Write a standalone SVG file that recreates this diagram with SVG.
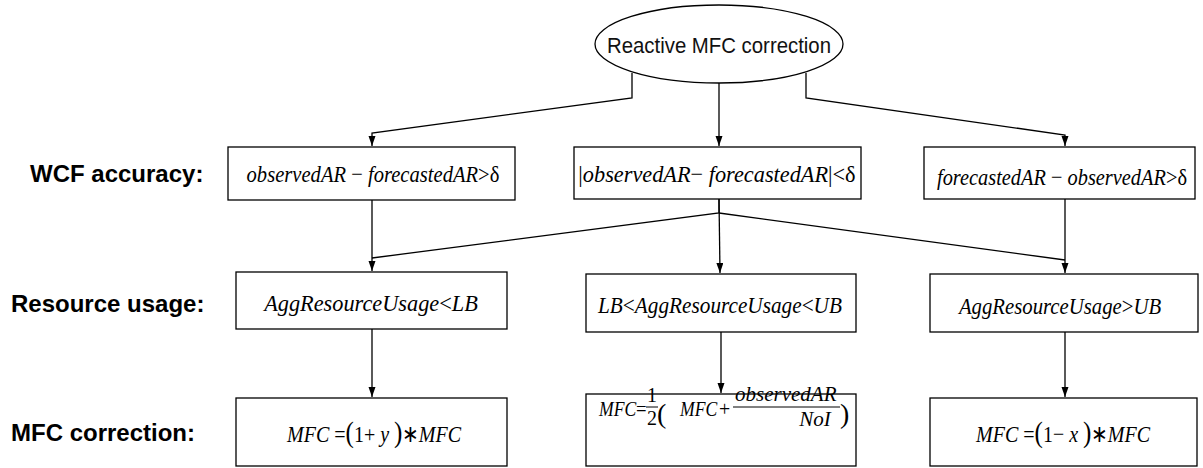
<svg xmlns="http://www.w3.org/2000/svg" width="1203" height="468" viewBox="0 0 1203 468">
<defs>
<marker id="arr" markerUnits="userSpaceOnUse" markerWidth="11" markerHeight="8" refX="10" refY="3.5" orient="auto">
<path d="M0,0 L10,3.5 L0,7 z" fill="#000"/>
</marker>
<style>
.box{fill:#fff;stroke:#000;stroke-width:1.3}
.conn{fill:none;stroke:#000;stroke-width:1.3}
.m{font-family:"Liberation Serif",serif;font-style:italic;font-size:24px;fill:#000;text-anchor:middle}
.s{font-family:"Liberation Serif",serif;font-style:italic;font-size:22px;fill:#000}
.u{font-style:normal}
.p{font-style:normal;font-size:30px}
.lab{font-family:"Liberation Sans",sans-serif;font-weight:bold;font-size:24px;fill:#000}
.el{font-family:"Liberation Sans",sans-serif;font-size:22px;fill:#111}
</style>
</defs>
<rect width="1203" height="468" fill="#fff"/>

<g id="labels">
<text class="lab" x="30" y="182">WCF accuracy:</text>
<text class="lab" x="11" y="312">Resource usage:</text>
<text class="lab" x="11" y="441">MFC correction:</text>
</g>

<g id="connectors">
<path class="conn" d="M632,73 L632,98 L372,133 L372,146" marker-end="url(#arr)"/>
<path class="conn" d="M719,83 L719,146" marker-end="url(#arr)"/>
<path class="conn" d="M806,73 L806,98 L1065,135 L1065,146" marker-end="url(#arr)"/>
<path class="conn" d="M372,200 L372,271" marker-end="url(#arr)"/>
<path class="conn" d="M719,199 L719,213 L372,258"/>
<path class="conn" d="M719,199 L720,273" marker-end="url(#arr)"/>
<path class="conn" d="M719,213 L1065,260"/>
<path class="conn" d="M1065,199 L1065,273" marker-end="url(#arr)"/>
<path class="conn" d="M372,329 L372,397" marker-end="url(#arr)"/>
<path class="conn" d="M721,332 L721,393" marker-end="url(#arr)"/>
<path class="conn" d="M1065,332 L1065,397" marker-end="url(#arr)"/>
</g>

<g id="root">
<ellipse class="box" cx="719" cy="44" rx="124" ry="39"/>
<text class="el" x="719" y="53" text-anchor="middle" textLength="224" lengthAdjust="spacingAndGlyphs">Reactive MFC correction</text>
</g>

<g id="wcf-over">
<rect class="box" x="228" y="147" width="287" height="53"/>
<text class="m" transform="translate(373,182) scale(0.858,1)">observedAR<tspan class="u"> − </tspan>forecastedAR<tspan class="u">&gt;δ</tspan></text>
</g>
<g id="wcf-ok">
<rect class="box" x="574" y="147" width="287" height="52"/>
<text class="m" transform="translate(717,182) scale(0.93,1)"><tspan class="u">|</tspan>observedAR<tspan class="u">− </tspan>forecastedAR<tspan class="u">|&lt;δ</tspan></text>
</g>
<g id="wcf-under">
<rect class="box" x="924" y="147" width="271" height="52"/>
<text class="m" transform="translate(1062,185) scale(0.848,1)">forecastedAR<tspan class="u"> − </tspan>observedAR<tspan class="u">&gt;δ</tspan></text>
</g>

<g id="res-low">
<rect class="box" x="236" y="272" width="271" height="57"/>
<text class="m" transform="translate(371,311) scale(0.93,1)">AggResourceUsage<tspan class="u">&lt;</tspan>LB</text>
</g>
<g id="res-mid">
<rect class="box" x="586" y="274" width="270" height="58"/>
<text class="m" transform="translate(720,313) scale(0.886,1)">LB<tspan class="u">&lt;</tspan>AggResourceUsage<tspan class="u">&lt;</tspan>UB</text>
</g>
<g id="res-high">
<rect class="box" x="930" y="274" width="268" height="58"/>
<text class="m" transform="translate(1060,314) scale(0.865,1)">AggResourceUsage<tspan class="u">&gt;</tspan>UB</text>
</g>

<g id="mfc-up">
<rect class="box" x="236" y="398" width="271" height="68"/>
<text class="m" transform="translate(374,442) scale(0.835,1)">MFC<tspan class="u"> =</tspan><tspan class="p">(</tspan><tspan class="u">1+ </tspan>y<tspan class="u"> </tspan><tspan class="p">)</tspan><tspan class="u">∗</tspan>MFC</text>
</g>
<g id="mfc-avg">
<rect class="box" x="586" y="394" width="270" height="72"/>
<text class="s" transform="translate(599,416) scale(0.8,1)">MFC</text>
<text class="s u" transform="translate(636,416) scale(0.85,1)">=</text>
<text class="s u" x="652" y="402" text-anchor="middle" style="font-size:20px">1</text>
<line x1="646" y1="407" x2="658" y2="407" stroke="#000" stroke-width="1"/>
<text class="s u" x="652" y="425" text-anchor="middle" style="font-size:20px">2</text>
<text class="s p" x="657" y="423" style="font-size:28px">(</text>
<text class="s" transform="translate(680,416) scale(0.8,1)">MFC</text>
<text class="s u" transform="translate(719,416) scale(0.9,1)">+</text>
<text class="s" x="735" y="401" style="font-size:21px">observedAR</text>
<line x1="733" y1="407" x2="840" y2="407" stroke="#000" stroke-width="1"/>
<text class="s" x="815" y="426" text-anchor="middle" style="font-size:21px">NoI</text>
<text class="s p" x="840" y="423" style="font-size:28px">)</text>
</g>
<g id="mfc-down">
<rect class="box" x="930" y="398" width="267" height="68"/>
<text class="m" transform="translate(1063,442) scale(0.835,1)">MFC<tspan class="u"> =</tspan><tspan class="p">(</tspan><tspan class="u">1− </tspan>x<tspan class="u"> </tspan><tspan class="p">)</tspan><tspan class="u">∗</tspan>MFC</text>
</g>
</svg>
